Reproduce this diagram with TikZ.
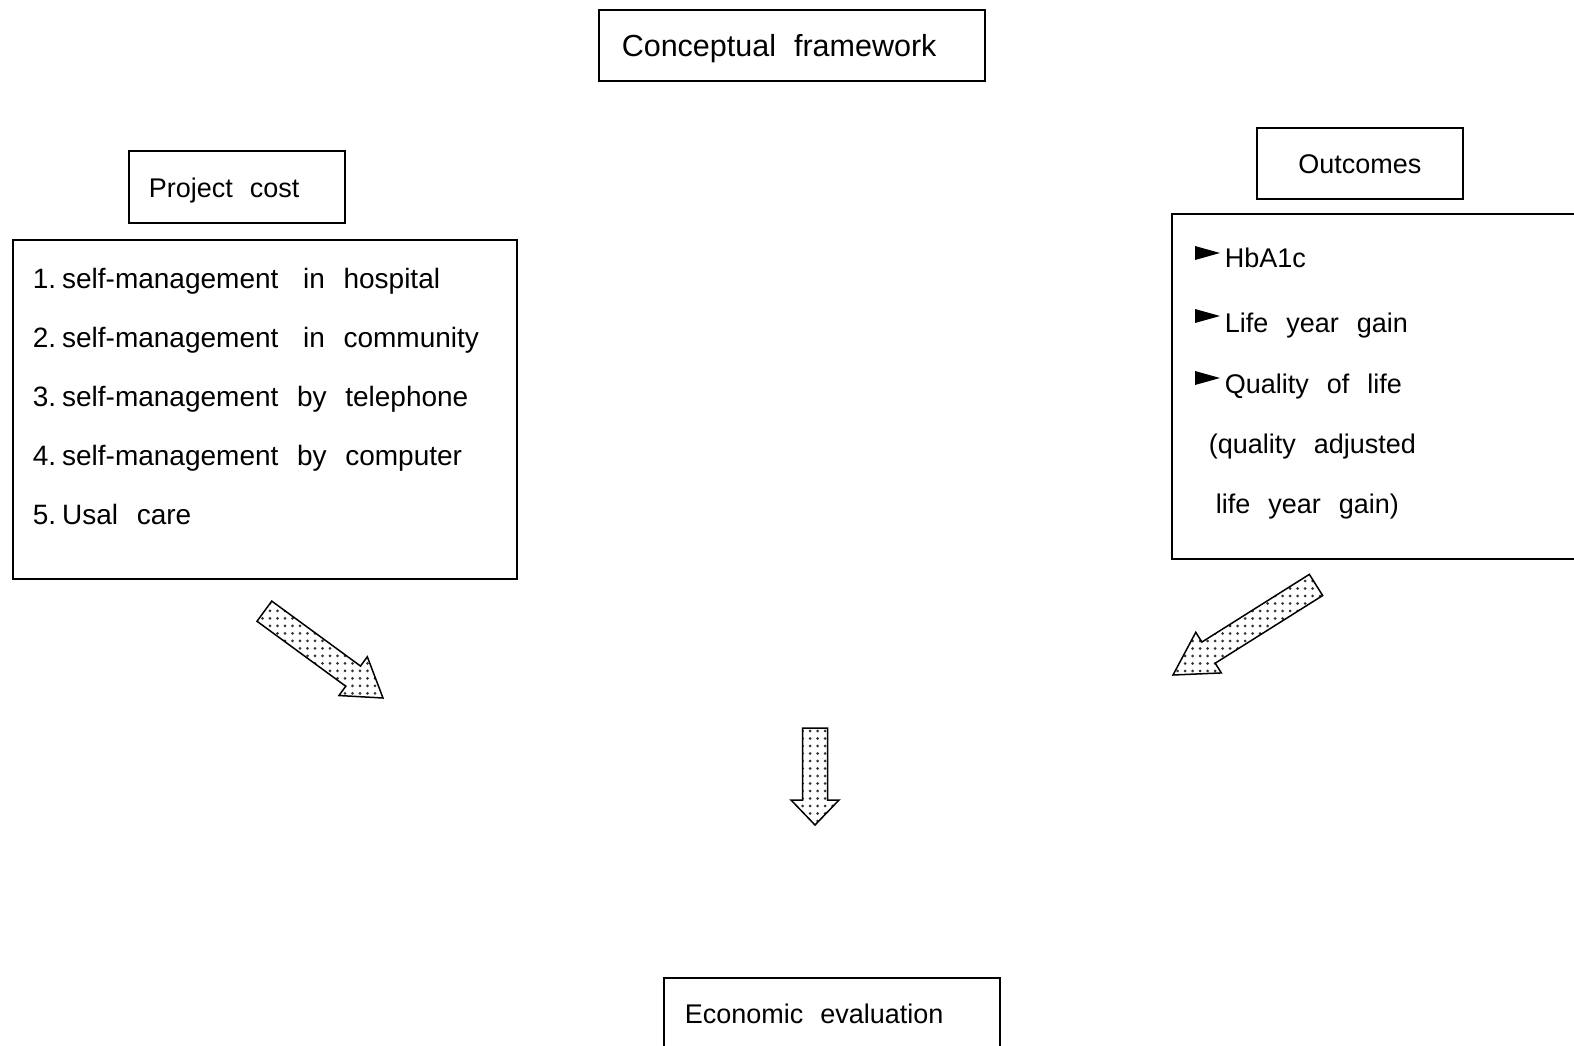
\documentclass[tikz,border=0pt]{standalone}
\usepackage{fontspec}
\setmainfont{Liberation Sans}[WordSpace=2.4]
\usetikzlibrary{%
  patterns.meta,% dotted fill of the big arrows
  positioning%
}

\begin{document}
\begin{tikzpicture}[
  x=1pt, y=-1pt,
  line width=1.6pt,
  box/.style={rectangle, draw=black, inner ysep=0pt, text height=47pt, text depth=24pt, font=\fontsize{27}{32}\selectfont},
  entry/.style={anchor=base west, inner sep=0pt, font=\fontsize{28}{30}\selectfont},
  outentry/.style={anchor=base west, inner sep=0pt, font=\fontsize{27}{30}\selectfont},
  stipple/.style={draw=black, line width=1.5pt, line join=miter, pattern={Dots[distance=7.5pt, radius=1.5pt]}, pattern color=black!80},
  pics/fatarrow/.style args={#1/#2}{code={
    \path[stipple] (0,0) -- (-#2,24) -- (-#2,12.5) -- (-#1,12.5) -- (-#1,-12.5) -- (-#2,-12.5) -- (-#2,-24) -- cycle;
  }}
]
\fill[white] (0,0) rectangle (1574,1046);
\useasboundingbox (0,0) rectangle (1574,1046);
\clip (0,0) rectangle (1574,1046);

% headings
\node[box, anchor=north west, text width=340pt, inner xsep=23pt, font=\fontsize{30.5}{36}\selectfont] (title) at (598,9) {Conceptual\hspace{18pt}framework};
\node[box, anchor=north west, text depth=25pt, text width=176pt, inner xsep=20pt] (cost) at (128,150) {Project\hspace{17pt}cost};
\node[box, anchor=north west, text height=46pt, text depth=25pt, text width=186pt, inner xsep=10pt, align=center] (outcomes) at (1256,127) {Outcomes};
\node[box, anchor=north west, text height=46pt, text depth=30pt, text width=294pt, inner xsep=21pt] (econ) at (663,977) {Economic\hspace{17pt}evaluation};

% cost list
\node[box, anchor=north west, text height=0pt, text depth=0pt, minimum width=504pt, minimum height=339pt] (costs) at (12,239) {};
\foreach \txt [count=\i] in {%
  1.\hspace{6pt}self-management\hspace{6pt} in hospital,
  2.\hspace{6pt}self-management\hspace{6pt} in community,
  3.\hspace{6pt}self-management by telephone,
  4.\hspace{6pt}self-management by computer,
  5.\hspace{6pt}Usal care} {
  \node[entry] (c\i) at (32,{288+59*(\i-1)}) {\txt};
}

% outcome list
\node[box, anchor=north west, text height=0pt, text depth=0pt, minimum width=430pt, minimum height=345pt] (outs) at (1171,213) {};
\node[outentry] (o1) at (1224,267) {HbA1c};
\node[outentry] (o2) at (1224,332) {Life year gain};
\node[outentry] (o3) at (1224,393) {Quality of life};
\node[outentry] (o4) at (1208,453) {(quality adjusted};
\node[outentry] (o5) at (1215,513) {life year gain)};
\foreach \y in {253,316,378} {
  \fill (1195,\y-7) -- (1220,\y) -- (1195,\y+7) -- cycle;
}

% big arrows
\coordinate (tipL) at (383,698);
\coordinate (tipR) at (1173,675);
\coordinate (tipD) at (815,825);
\pic[rotate=-36.2] at (tipL) {fatarrow=147/37};
\pic[rotate=212.2] at (tipR) {fatarrow=169/42};
\pic[rotate=-90] at (tipD) {fatarrow=97/25};

\end{tikzpicture}
\end{document}
